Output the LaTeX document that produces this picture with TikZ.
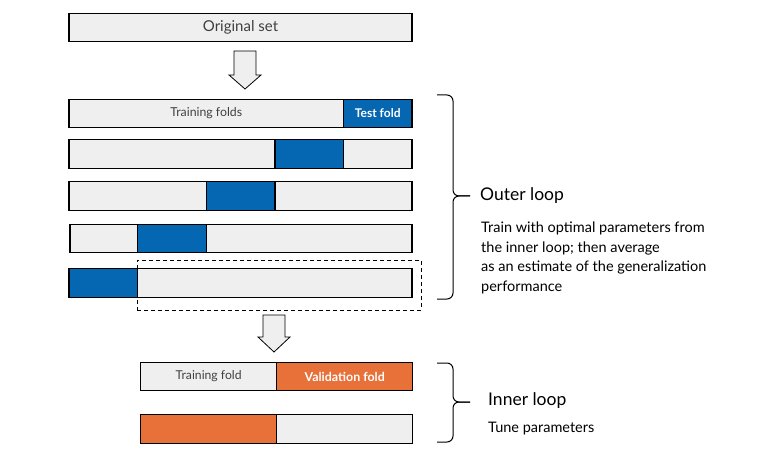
\documentclass[tikz,border=0pt]{standalone}
\usepackage{fontspec}
\setmainfont{Lato}
\definecolor{foldgray}{RGB}{239,239,239}
\definecolor{testblue}{RGB}{5,102,177}
\definecolor{valorange}{RGB}{232,112,57}
\definecolor{txtgray}{RGB}{64,64,64}
\tikzset{
  fold/.style={draw, line width=1.3pt, fill=foldgray, inner sep=0pt, minimum height=28.5pt, text=txtgray},
  testfold/.style={fold, fill=testblue, minimum width=68.6pt, text=white},
  valfold/.style={fold, fill=valorange, minimum width=136pt, text=white},
  bigarrow/.style={draw, line width=0.8pt, fill=foldgray},
  brace/.style={draw, line width=1pt, rounded corners=6pt},
  looptitle/.style={anchor=west, inner sep=0pt, font=\fontsize{17.5}{20}\selectfont},
  loopnote/.style={anchor=north west, inner sep=0pt, align=left, font=\fontsize{14.5}{19.5}\selectfont}
}
\begin{document}
\begin{tikzpicture}[x=1pt,y=-1pt]
\useasboundingbox (0,0) rectangle (762,462);

\node[fold, minimum width=343pt, font=\fontsize{15}{17}\selectfont] (orig) at (240.5,27.5) {Original set};

% outer folds
\node[fold, minimum width=274.6pt, font=\fontsize{12.3}{14}\selectfont] (r1) at (206.3,113.5) {Training folds};
\node[testfold, font=\bfseries\fontsize{12}{14}\selectfont] (t1) at (377.7,113.5) {Test fold};
\node[fold, minimum width=343pt] (r2) at (240.5,154) {};
\node[testfold] (t2) at (309.3,154) {};
\node[fold, minimum width=343pt] (r3) at (240.5,196) {};
\node[testfold] (t3) at (240.7,196) {};
\node[fold, minimum width=342pt] (r4) at (241,238.5) {};
\node[testfold] (t4) at (172.1,238.5) {};
\node[fold, minimum width=343pt] (r5) at (240.5,283) {};
\node[testfold] (t5) at (103.4,283) {};
\node[draw, dash pattern=on 4pt off 3pt, line width=1pt, inner sep=0pt, minimum width=284pt, minimum height=50pt] (sel) at (279,285) {};

% inner folds
\node[fold, minimum width=136pt, font=\fontsize{12.2}{14}\selectfont] (i1) at (208.7,376.5) {Training fold};
\node[valfold, font=\bfseries\fontsize{12.4}{14}\selectfont] (v1) at (344.7,376.5) {Validation fold};
\node[valfold] (v2) at (208.7,429) {};
\node[fold, minimum width=136pt] (i2) at (344.7,429) {};

% arrows
\path[bigarrow] (234,51) -- (256,51) -- (256,75) -- (261,75) -- (245,89) -- (229,75) -- (234,75) -- cycle;
\path[bigarrow] (263,315) -- (285,315) -- (285,337) -- (290,337) -- (274,352) -- (258,337) -- (263,337) -- cycle;

% braces
\path[brace] (437,95) -- (453,95) -- (453,196) -- (470,196);
\path[brace] (437,299) -- (453,299) -- (453,196) -- (470,196);
\path[brace] (437,363) -- (453,363) -- (453,402) -- (470,402);
\path[brace] (437,442) -- (453,442) -- (453,402) -- (470,402);

\node[looptitle] (outer) at (480,196) {Outer loop};
\node[loopnote] (outernote) at (481,222) {Train with optimal parameters from\\the inner loop; then average\\as an estimate of the generalization\\performance};
\node[looptitle] (inner) at (488,401) {Inner loop};
\node[loopnote] (innernote) at (488,422) {Tune parameters};
\end{tikzpicture}
\end{document}
